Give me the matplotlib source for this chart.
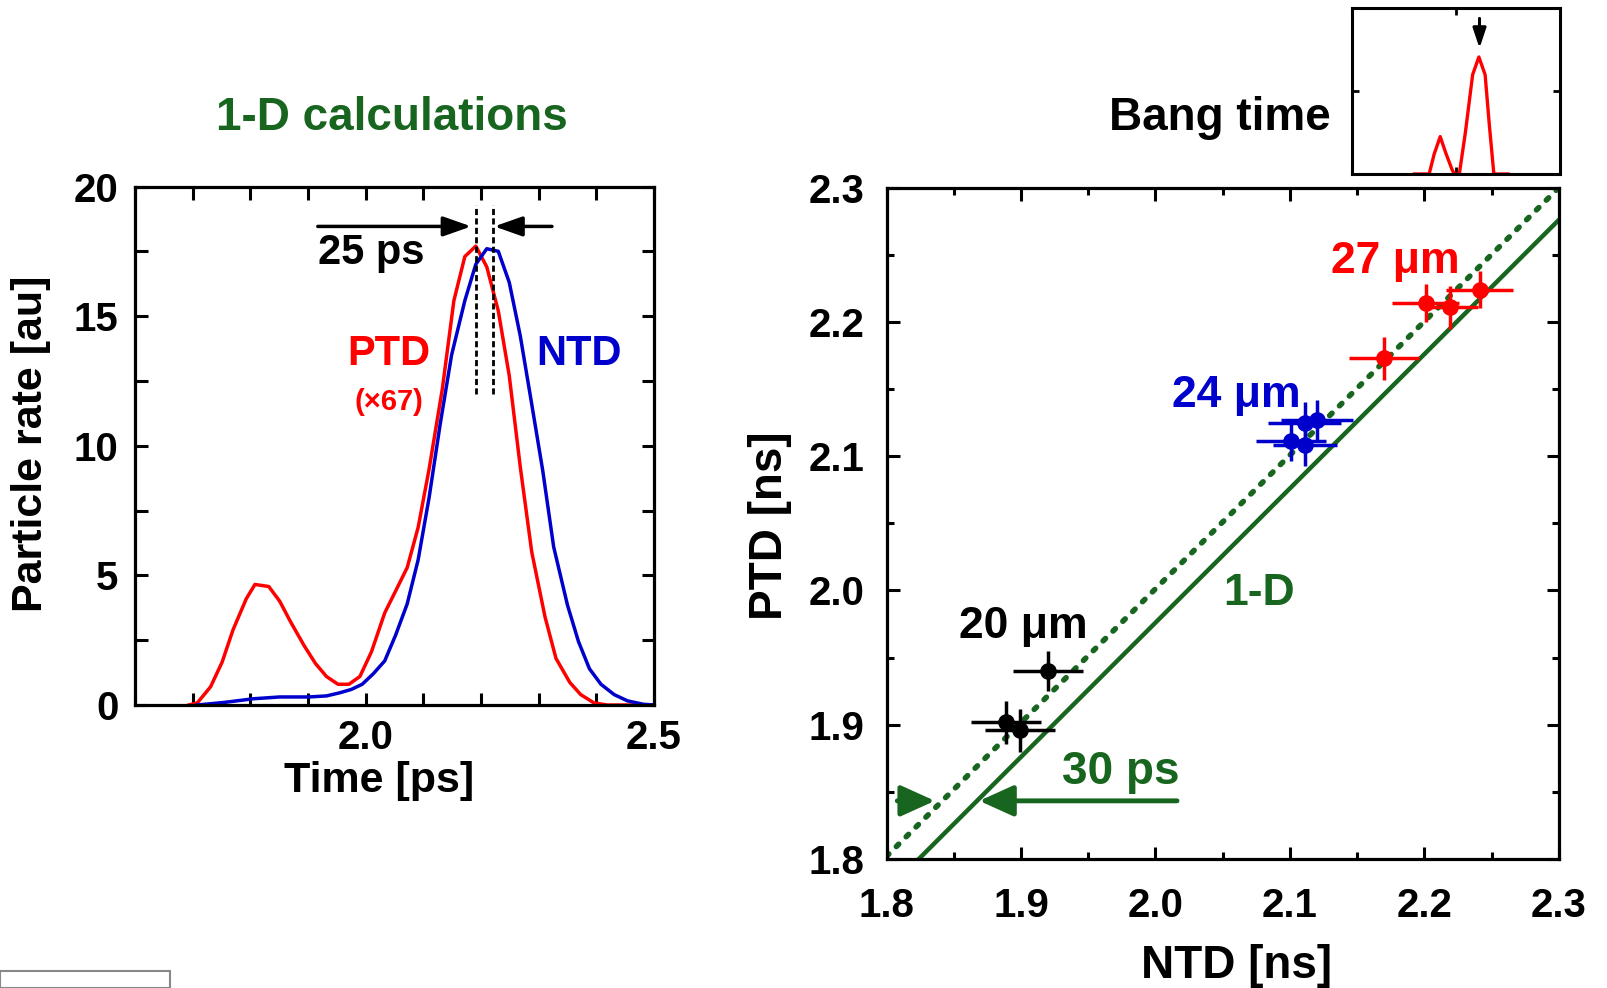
import numpy as np
import matplotlib.pyplot as plt
from matplotlib.patches import Rectangle

plt.rcParams['font.family'] = ['Liberation Sans', 'DejaVu Sans']
plt.rcParams['font.weight'] = 'bold'
plt.rcParams['axes.labelweight'] = 'bold'

RED = '#ff0000'
BLUE = '#0000cc'
GREEN = '#17651f'

# --- left panel: 1-D calculated particle rates ---
ptd_t = [1.693, 1.708, 1.731, 1.751, 1.770, 1.793, 1.808, 1.832, 1.851, 1.870,
         1.893, 1.913, 1.932, 1.952, 1.971, 1.990, 2.010, 2.033, 2.052, 2.072,
         2.091, 2.110, 2.133, 2.153, 2.172, 2.191, 2.210, 2.230, 2.249, 2.268,
         2.288, 2.311, 2.330, 2.354, 2.373, 2.396, 2.419, 2.500]
ptd_rate = [0.0, 0.08, 0.7, 1.65, 2.9, 4.1, 4.65, 4.57, 4.0, 3.2,
            2.3, 1.6, 1.1, 0.8, 0.8, 1.1, 2.05, 3.55, 4.4, 5.3,
            6.85, 9.1, 12.2, 15.6, 17.3, 17.7, 16.9, 15.2, 12.7, 9.2,
            5.9, 3.4, 1.8, 0.87, 0.4, 0.08, 0.0, 0.0]
ntd_t = [1.708, 1.755, 1.805, 1.851, 1.901, 1.932, 1.955, 1.975, 1.994, 2.013,
         2.033, 2.052, 2.072, 2.091, 2.110, 2.129, 2.149, 2.172, 2.191, 2.210,
         2.230, 2.249, 2.268, 2.288, 2.307, 2.326, 2.350, 2.369, 2.388, 2.408,
         2.431, 2.454, 2.481, 2.500]
ntd_rate = [0.0, 0.1, 0.24, 0.31, 0.31, 0.35, 0.47, 0.6, 0.8, 1.2,
            1.7, 2.7, 3.9, 5.6, 8.0, 10.8, 13.5, 15.6, 17.0, 17.6,
            17.5, 16.3, 14.25, 11.6, 9.05, 6.1, 3.85, 2.45, 1.4, 0.8,
            0.4, 0.16, 0.03, 0.0]
peak_ptd, peak_ntd = 2.191, 2.220

# --- right panel: measured bang times ---
black_ntd = [1.920, 1.889, 1.899]
black_ptd = [1.940, 1.902, 1.896]
black_xerr = [0.026, 0.026, 0.026]
black_yerr = [0.015, 0.016, 0.016]

blue_ntd = [2.111, 2.120, 2.101, 2.111]
blue_ptd = [2.125, 2.127, 2.111, 2.108]
blue_xerr = [0.027, 0.027, 0.026, 0.024]
blue_yerr = [0.015, 0.015, 0.015, 0.015]

red_ntd = [2.170, 2.201, 2.219, 2.241]
red_ptd = [2.173, 2.214, 2.211, 2.224]
red_xerr = [0.026, 0.025, 0.021, 0.025]
red_yerr = [0.016, 0.014, 0.016, 0.014]

# 1-D lines: measured trend (dotted) and calculation (solid)
trend_ntd = [1.800, 2.300]
trend_ptd = [1.802, 2.300]
calc_ntd = [1.824, 2.300]
calc_ptd = [1.800, 2.276]

# --- inset: bang time trace ---
bang_x = [0.30, 0.371, 0.395, 0.424, 0.45, 0.48, 0.492, 0.516, 0.545, 0.58,
          0.61, 0.64, 0.66, 0.682, 0.75]
bang_y = [0.0, 0.0, 0.12, 0.226, 0.13, 0.03, 0.0, 0.0, 0.25, 0.6,
          0.707, 0.6, 0.3, 0.0, 0.0]

W, H = 1607, 988
fig = plt.figure(figsize=(W / 100, H / 100), dpi=100)


def frac(x0, y0, x1, y1):
    return [x0 / W, 1 - y1 / H, (x1 - x0) / W, (y1 - y0) / H]


def style(ax, maj, mino):
    for s in ax.spines.values():
        s.set_linewidth(2.3)
    ax.tick_params(which='both', direction='in', top=True, right=True,
                   width=2.2, labelsize=29)
    ax.tick_params(which='major', length=maj)
    ax.tick_params(which='minor', length=mino)


# left panel
ax1 = fig.add_axes(frac(135, 186.5, 654, 705))
ax1.plot(ptd_t, ptd_rate, color=RED, lw=2.5)
ax1.plot(ntd_t, ntd_rate, color=BLUE, lw=2.5)
for t in (peak_ptd, peak_ntd):
    ax1.plot([t, t], [12.0, 19.3], color='k', lw=2, ls=(0, (2.2, 1.2)))
arr = dict(arrowstyle='-|>,head_length=1.7,head_width=0.6', lw=2.5,
           color='k', shrinkA=0, shrinkB=0)
ax1.annotate('', xy=(peak_ptd - 0.008, 18.46), xytext=(1.917, 18.46), arrowprops=arr)
ax1.annotate('', xy=(peak_ntd + 0.003, 18.46), xytext=(2.323, 18.46), arrowprops=arr)
ax1.text(1.917, 17.45, '25 ps', fontsize=30, ha='left', va='center')
ax1.text(2.04, 13.55, 'PTD', color=RED, fontsize=30, ha='center', va='center')
ax1.text(2.04, 11.7, '(×67)', color=RED, fontsize=21, ha='center', va='center')
ax1.text(2.37, 13.55, 'NTD', color=BLUE, fontsize=30, ha='center', va='center')
ax1.set_xlim(1.6, 2.5)
ax1.set_ylim(0, 20)
ax1.set_xticks([2.0, 2.5])
ax1.set_xticks(np.arange(1.6, 2.5, 0.1), minor=True)
ax1.set_xticklabels(['2.0', '2.5'])
ax1.set_yticks([0, 5, 10, 15, 20])
ax1.set_yticks([2.5, 7.5, 12.5, 17.5], minor=True)
style(ax1, 9, 9)
ax1.tick_params(axis='y', pad=12)
ax1.tick_params(axis='x', pad=10)
ax1.set_xlabel('Time [ps]', fontsize=31)
ax1.xaxis.set_label_coords(0.47, -0.108)
ax1.set_ylabel('Particle rate [au]', fontsize=31)
ax1.yaxis.set_label_coords(-0.162, 0.504)
fig.text(392 / W, 1 - 118 / H, '1-D calculations', color=GREEN, fontsize=33,
         ha='center', va='center')

# right panel
ax2 = fig.add_axes(frac(886.5, 187.5, 1559, 859))
ax2.plot(trend_ntd, trend_ptd, color=GREEN, lw=4, ls=(0, (0.6, 1.9)),
         dash_capstyle='round')
ax2.plot(calc_ntd, calc_ptd, color=GREEN, lw=3.2)
for xs, ys, xe, ye, c in [(black_ntd, black_ptd, black_xerr, black_yerr, 'k'),
                          (blue_ntd, blue_ptd, blue_xerr, blue_yerr, BLUE),
                          (red_ntd, red_ptd, red_xerr, red_yerr, RED)]:
    ax2.errorbar(xs, ys, xerr=xe, yerr=ye, fmt='o', color=c, ms=11,
                 elinewidth=2.5, capsize=0, zorder=4)
ax2.text(2.178, 2.245, '27 μm', color=RED, fontsize=32, ha='center', va='center')
ax2.text(2.060, 2.145, '24 μm', color=BLUE, fontsize=32, ha='center', va='center')
ax2.text(1.902, 1.973, '20 μm', color='k', fontsize=32, ha='center', va='center')
ax2.text(2.077, 1.998, '1-D', color=GREEN, fontsize=32, ha='center', va='center')
ax2.text(1.974, 1.865, '30 ps', color=GREEN, fontsize=33, ha='center', va='center')
garr = dict(arrowstyle='-|>,head_length=2.1,head_width=0.95', lw=3.5,
            color=GREEN, shrinkA=0, shrinkB=0)
ax2.annotate('', xy=(1.836, 1.8433), xytext=(1.808, 1.8433), arrowprops=garr)
ax2.annotate('', xy=(1.869, 1.8433), xytext=(2.016, 1.8433), arrowprops=garr)
ax2.set_xlim(1.8, 2.3)
ax2.set_ylim(1.8, 2.3)
ticks = np.arange(1.8, 2.31, 0.1)
ax2.set_xticks(ticks)
ax2.set_yticks(ticks)
ax2.set_xticks(np.arange(1.85, 2.3, 0.1), minor=True)
ax2.set_yticks(np.arange(1.85, 2.3, 0.1), minor=True)
ax2.set_xticklabels(['%.1f' % v for v in ticks])
ax2.set_yticklabels(['%.1f' % v for v in ticks])
style(ax2, 9, 5)
ax2.tick_params(axis='y', pad=16)
ax2.tick_params(axis='x', pad=20)
ax2.set_xlabel('NTD [ns]', fontsize=33)
ax2.xaxis.set_label_coords(0.521, -0.126)
ax2.set_ylabel('PTD [ns]', fontsize=33)
ax2.yaxis.set_label_coords(-0.14, 0.496)
fig.text(1220 / W, 1 - 118 / H, 'Bang time', color='k', fontsize=33,
         ha='center', va='center')

# inset
ax3 = fig.add_axes(frac(1352, 8.5, 1560, 174))
ax3.plot(bang_x, bang_y, color=RED, lw=2.4)
ax3.annotate('', xy=(0.613, 0.76), xytext=(0.613, 0.94),
             arrowprops=dict(arrowstyle='-|>,head_length=1.2,head_width=0.4',
                             lw=2.2, color='k', shrinkA=0, shrinkB=0))
ax3.set_xlim(0, 1)
ax3.set_ylim(0, 1)
ax3.set_xticks([0.5])
ax3.set_yticks([0.5])
ax3.set_xticklabels([])
ax3.set_yticklabels([])
for s in ax3.spines.values():
    s.set_linewidth(2.2)
ax3.tick_params(direction='in', top=True, right=True, width=2, length=5)

# corner of a logo box, cut off at the bottom edge
fig.patches.append(Rectangle((0, 0), 170 / W, 17 / H, transform=fig.transFigure,
                             fill=False, edgecolor='#888888', lw=1.5))

fig.savefig('out.png', dpi=100)
